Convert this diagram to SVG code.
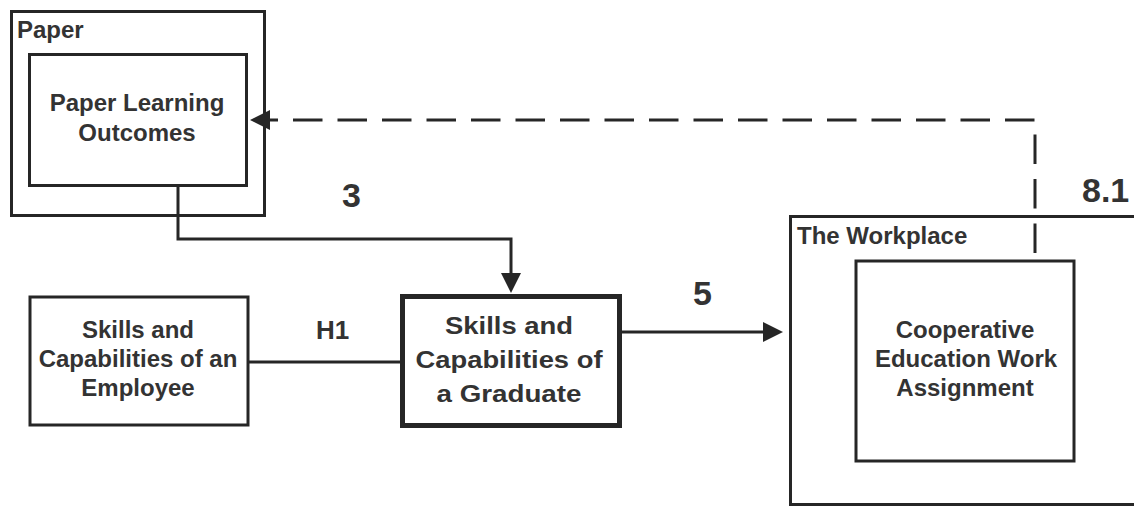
<svg xmlns="http://www.w3.org/2000/svg" width="1134" height="506" viewBox="0 0 1134 506">
  <style>
    .box { fill: #ffffff; stroke: #262626; stroke-width: 3; }
    .thick { stroke-width: 5; }
    .lbl { font-family: "Liberation Sans", Arial, sans-serif; font-weight: bold; fill: #333333; }
    .t { font-size: 24px; text-anchor: middle; }
    .cap { font-size: 24px; }
    .num { font-size: 34px; }
    .edge { fill: none; stroke: #262626; stroke-width: 3; }
    .dash { stroke-dasharray: 29.5 15; }
  </style>
  <defs>
    <marker id="arrow" markerUnits="userSpaceOnUse" markerWidth="22" markerHeight="22" refX="0" refY="10" orient="auto">
      <path d="M0,0 L20,10 L0,20 Z" fill="#262626"/>
    </marker>
  </defs>
  <rect width="1134" height="506" fill="#ffffff"/>

  <g id="paper">
    <rect class="box" x="11.5" y="11.5" width="253" height="204"/>
    <text class="lbl cap" x="17" y="38">Paper</text>
  </g>
  <g id="paper-learning-outcomes">
    <rect class="box" x="29.5" y="54.5" width="217" height="131"/>
    <text class="lbl t" x="137" y="111">Paper Learning</text>
    <text class="lbl t" x="137" y="141">Outcomes</text>
  </g>
  <g id="employee">
    <rect class="box" x="30" y="297" width="218" height="128"/>
    <text class="lbl t" x="138" y="338">Skills and</text>
    <text class="lbl t" x="138" y="367">Capabilities of an</text>
    <text class="lbl t" x="138" y="396">Employee</text>
  </g>
  <g id="graduate">
    <rect class="box thick" x="402.5" y="296.5" width="217" height="129"/>
    <text class="lbl t" x="509" y="334" font-size="26" textLength="128" lengthAdjust="spacingAndGlyphs">Skills and</text>
    <text class="lbl t" x="509" y="368" font-size="26" textLength="187" lengthAdjust="spacingAndGlyphs">Capabilities of</text>
    <text class="lbl t" x="509" y="402" font-size="26" textLength="145" lengthAdjust="spacingAndGlyphs">a Graduate</text>
  </g>
  <g id="workplace">
    <rect class="box" x="790.5" y="216.5" width="400" height="288"/>
    <text class="lbl cap" x="797" y="244">The Workplace</text>
  </g>
  <g id="coop-assignment">
    <rect class="box" x="856" y="261" width="218" height="200"/>
    <text class="lbl t" x="965" y="338">Cooperative</text>
    <text class="lbl t" x="966" y="367">Education Work</text>
    <text class="lbl t" x="965" y="396">Assignment</text>
  </g>

  <g id="connectors">
    <path class="edge" d="M178,186 V239 H511 V273" marker-end="url(#arrow)"/>
    <path class="edge" d="M249,362 H401"/>
    <path class="edge" d="M621,332 H763" marker-end="url(#arrow)"/>
    <path class="edge dash" d="M1035,253 V120 H270" marker-end="url(#arrow)"/>
  </g>
  <g id="edge-labels">
    <text class="lbl num" x="342" y="207">3</text>
    <text class="lbl" x="316" y="339" font-size="26">H1</text>
    <text class="lbl num" x="693" y="305">5</text>
    <text class="lbl num" x="1082" y="202">8.1</text>
  </g>
</svg>
